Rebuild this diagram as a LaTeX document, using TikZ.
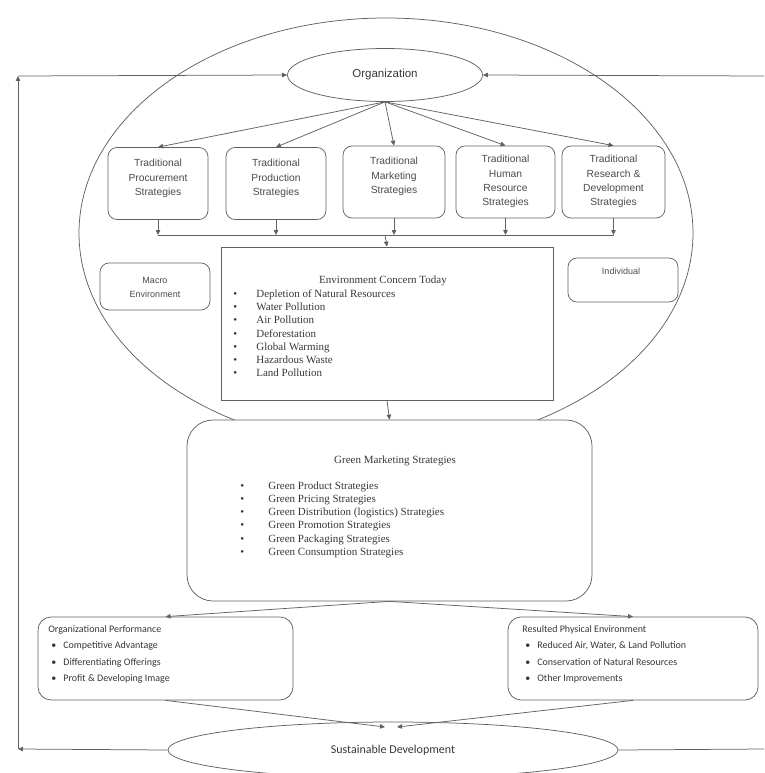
\documentclass[tikz,border=0pt]{standalone}
\usepackage{fontspec}
\setmainfont{Liberation Serif}
\newfontfamily\arialf{Liberation Sans}
\newfontfamily\calf{Carlito}
\usetikzlibrary{shapes.geometric,arrows.meta}
\newcommand\blt[1]{\makebox[#1][l]{\textbullet}}
\begin{document}
\begin{tikzpicture}[x=1pt,y=-1pt,
  line width=0.75pt,
  every node/.style={text=black!78},
  ln/.style={draw=black!62},
  arr/.style={ln,-{Triangle[length=5pt,width=4.5pt]}},
  sbox/.style={draw=black!62,fill=white,rounded corners=9pt,minimum width=#1,inner sep=0},
  tbox/.style={sbox=100pt,minimum height=72pt},
  ttext/.style={font=\arialf\fontsize{10.3}{14.2}\selectfont,align=center,inner sep=0,anchor=north,text=black!70},
  serif/.style={font=\fontsize{11}{13.3}\selectfont,inner sep=0},
  cal/.style={font=\calf\fontsize{10}{16.4}\selectfont,inner sep=0,align=left,anchor=north west},
  ell/.style={ellipse,draw=black!62,inner sep=0}]
\useasboundingbox (0,0) rectangle (764,773);
% big enclosing ellipse
\node[ell,minimum width=614pt,minimum height=430pt] (big) at (386,233) {};
% organization
\node[ell,fill=white,minimum width=195pt,minimum height=53pt,font=\arialf\fontsize{11.5}{13}\selectfont] (org) at (385,75) {Organization};
% traditional boxes
\node[tbox] (t1) at (158,183.5) {};
\node[tbox] (t2) at (276,183.5) {};
\node[tbox,minimum width=102pt] (t3) at (394,182) {};
\node[tbox,minimum width=99pt] (t4) at (505.5,182) {};
\node[tbox,minimum width=103pt] (t5) at (613.5,182) {};
\node[ttext] (t1x) at (158,159) {Traditional\\Procurement\\Strategies};
\node[ttext] (t2x) at (276,159) {Traditional\\Production\\Strategies};
\node[ttext] (t3x) at (394,157) {Traditional\\Marketing\\Strategies};
\node[ttext] (t4x) at (505.5,155) {Traditional\\Human\\Resource\\Strategies};
\node[ttext] (t5x) at (613.5,155) {Traditional\\Research \&\\Development\\Strategies};
% arrows organization -> boxes
\foreach \i in {1,...,5}{\draw[arr] (org.south) -- (t\i.north);}
% collector
\coordinate (hl) at (385,235);
\foreach \i in {1,2,4,5}{\draw[arr] (t\i.south) -- (t\i.south |- hl);}
\draw[arr] (t3.south) -- (t3.south |- hl);
\draw[ln] (t1.south |- hl) -- (t5.south |- hl);
% side boxes
\node[sbox=110pt,minimum height=47pt] (macro) at (155,286.5) {};
\node[ttext,font=\arialf\fontsize{9}{14}\selectfont] (macrox) at (155,277) {Macro\\Environment};
\node[sbox=110pt,minimum height=44pt] (indiv) at (623,280) {};
\node[ttext,font=\arialf\fontsize{9}{14}\selectfont] (indivx) at (621,268) {Individual};
% environment concern box
\node[draw=black!62,fill=white,minimum width=332pt,minimum height=153pt,inner sep=0] (env) at (387,323.5) {};
\draw[arr] (hl) -- (env.north);
\node[serif] (envt) at (383,281) {Environment Concern Today};
\node[serif,align=left,anchor=north west] (envl) at (233,289) {\blt{23pt}Depletion of Natural Resources\\\blt{23pt}Water Pollution\\\blt{23pt}Air Pollution\\\blt{23pt}Deforestation\\\blt{23pt}Global Warming\\\blt{23pt}Hazardous Waste\\\blt{23pt}Land Pollution};
% green marketing box
\node[draw=black!62,fill=white,rounded corners=26pt,minimum width=405pt,minimum height=181pt,inner sep=0] (green) at (389.5,510.5) {};
\draw[arr] (env.south) -- (green.north);
\node[serif] (greent) at (395,461) {Green Marketing Strategies};
\node[serif,align=left,anchor=north west] (greenl) at (240,481) {\blt{28pt}Green Product Strategies\\\blt{28pt}Green Pricing Strategies\\\blt{28pt}Green Distribution (logistics) Strategies\\\blt{28pt}Green Promotion Strategies\\\blt{28pt}Green Packaging Strategies\\\blt{28pt}Green Consumption Strategies};
% outcome boxes
\node[sbox=255pt,minimum height=83pt,rounded corners=13pt] (perf) at (165.5,658.5) {};
\node[sbox=250pt,minimum height=83pt,rounded corners=13pt] (res) at (633,658.5) {};
\node[cal] (perfx) at (48,625) {Organizational Performance\\\hspace*{3pt}\blt{12pt}Competitive Advantage\\\hspace*{3pt}\blt{12pt}Differentiating Offerings\\\hspace*{3pt}\blt{12pt}Profit \& Developing Image};
\node[cal] (resx) at (522,625) {Resulted Physical Environment\\\hspace*{3pt}\blt{12pt}Reduced Air, Water, \& Land Pollution\\\hspace*{3pt}\blt{12pt}Conservation of Natural Resources\\\hspace*{3pt}\blt{12pt}Other Improvements};
\draw[arr] (green.south) -- (perf.north);
\draw[arr] (green.south) -- (res.north);
% sustainable development
\node[ell,fill=white,minimum width=450pt,minimum height=56pt,font=\calf\fontsize{12}{14}\selectfont] (sd) at (393,750) {Sustainable Development};
\coordinate (sdl) at (385,727);
\coordinate (sdr) at (397,727);
\draw[arr] (perf.south) -- (sdl);
\draw[arr] (res.south) -- (sdr);
% feedback loop
\coordinate (lb) at (18,749);
\coordinate (lt) at (18,76);
\coordinate (rt) at (764,76);
\coordinate (rb) at (764,749);
\draw[arr] (sd.west) -- (lb);
\draw[arr] (lb) -- (lt);
\draw[arr] (lt) -- (org.west);
\draw[arr] (rt) -- (org.east);
\draw[ln] (sd.east) -- (rb);
\end{tikzpicture}
\end{document}
